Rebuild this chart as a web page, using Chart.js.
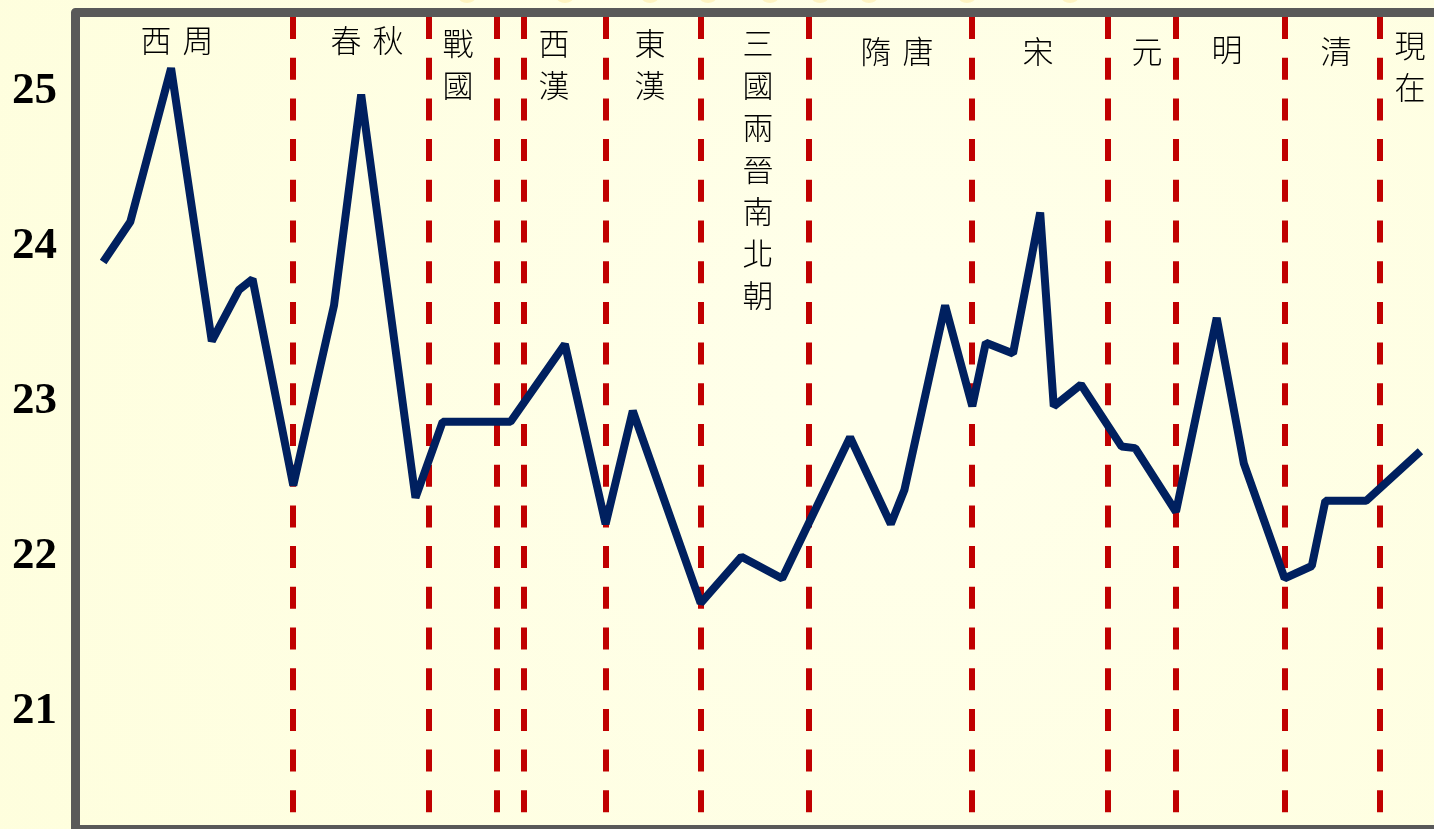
<!DOCTYPE html>
<html>
<head>
<meta charset="utf-8">
<script src="https://cdn.jsdelivr.net/npm/chart.js@4/dist/chart.umd.min.js"></script>
<style>
  html, body { margin: 0; padding: 0; background: #FEFEDF; overflow: hidden; }
  #wrap { width: 1434px; height: 829px; }
</style>
</head>
<body>
<div id="wrap"><canvas id="c" width="1434" height="829"></canvas></div>
<script>
// ---- data ----
// timeline position (relative units 0-100, schematic, not linear in years)
const timePos = [2, 4, 7, 10, 12, 13, 16, 19, 21, 25, 27, 32, 36, 39, 41, 46, 49, 52, 57, 60, 61, 64, 66, 67, 69, 71, 72, 74, 77, 78, 81, 84, 86, 89, 91, 92, 95, 99];
// temperature (°C)
const temps = [23.90, 24.16, 25.15, 23.39, 23.72, 23.79, 22.46, 23.62, 24.98, 22.38, 22.87, 22.87, 23.37, 22.21, 22.94, 21.70, 22.00, 21.86, 22.77, 22.21, 22.43, 23.62, 22.97, 23.38, 23.31, 24.22, 22.97, 23.11, 22.71, 22.70, 22.29, 23.54, 22.60, 21.86, 21.94, 22.36, 22.36, 22.68];
// dynasty boundaries (same timeline units)
const boundaries = [16, 26, 31, 33, 39, 46, 54, 66, 76, 81, 89, 96];
// dynasty names and where their label sits on the timeline
const dynasties = ["西周", "春秋", "戰國", "西漢", "東漢", "三國兩晉南北朝", "隋唐", "宋", "元", "明", "清", "現在"];
const dynastyPos = [7.44, 21.43, 28.13, 35.2, 42.27, 50.22, 60.46, 70.84, 78.87, 84.76, 92.78, 98.23];
const dynastyVertical = [false, false, true, true, true, true, false, false, false, false, false, true];
const yTicks = [21, 22, 23, 24, 25];

// ---- layout/style ----
const labelTop = [40, 40, 43, 43, 43, 43, 51, 51, 51, 49, 51, 45];
const charStep = 42;

const bgPlugin = {
  id: 'bg',
  beforeDraw(chart) {
    const ctx = chart.ctx;
    ctx.save();
    const g = ctx.createRadialGradient(900, 380, 50, 900, 380, 1100);
    g.addColorStop(0, '#FFFFEA');
    g.addColorStop(1, '#FEFEDC');
    ctx.fillStyle = g;
    ctx.fillRect(0, 0, chart.width, chart.height);
    // faint decorative dots above frame
    ctx.fillStyle = 'rgba(250,205,70,0.22)';
    [467, 565, 650, 708, 770, 820, 869, 967, 1070].forEach(x => {
      ctx.beginPath();
      ctx.ellipse(x, -2, 8, 5, 0, 0, Math.PI * 2);
      ctx.fill();
    });
    ctx.restore();
  },
  beforeDatasetsDraw(chart) {
    const ctx = chart.ctx;
    const xs = chart.scales.x;
    const area = chart.chartArea;
    ctx.save();
    ctx.strokeStyle = '#C00000';
    ctx.lineWidth = 6;
    ctx.setLineDash([22, 18.7]);
    ctx.lineCap = 'butt';
    boundaries.forEach(b => {
      const x = Math.round(xs.getPixelForValue(b));
      ctx.beginPath();
      ctx.moveTo(x, area.top);
      ctx.lineTo(x, area.bottom);
      ctx.stroke();
    });
    ctx.setLineDash([]);
    ctx.fillStyle = '#000';
    ctx.font = '300 31px "Noto Sans CJK TC"';
    ctx.textAlign = 'center';
    ctx.textBaseline = 'middle';
    dynasties.forEach((name, i) => {
      const cx = xs.getPixelForValue(dynastyPos[i]);
      const chars = Array.from(name);
      chars.forEach((ch, j) => {
        if (dynastyVertical[i]) {
          ctx.fillText(ch, cx, labelTop[i] + j * charStep);
        } else {
          const off = (j - (chars.length - 1) / 2) * charStep;
          ctx.fillText(ch, cx + off, labelTop[i]);
        }
      });
    });
    ctx.restore();
  },
  afterDraw(chart) {
    const ctx = chart.ctx;
    ctx.save();
    ctx.strokeStyle = '#595959';
    ctx.lineWidth = 9;
    ctx.lineJoin = 'round';
    ctx.beginPath();
    ctx.moveTo(1450, 12.5);
    ctx.lineTo(75.5, 12.5);
    ctx.lineTo(75.5, 829.5);
    ctx.lineTo(1450, 829.5);
    ctx.stroke();
    ctx.restore();
  }
};

new Chart(document.getElementById('c'), {
  type: 'line',
  data: {
    datasets: [{
      data: timePos.map((t, i) => ({ x: t, y: temps[i] })),
      borderColor: '#00205F',
      borderWidth: 8,
      borderJoinStyle: 'bevel',
      borderCapStyle: 'butt',
      pointRadius: 0,
      tension: 0,
      fill: false
    }]
  },
  options: {
    responsive: false,
    devicePixelRatio: 1,
    animation: false,
    layout: { padding: { top: 17, bottom: 4, left: 0, right: 0 } },
    plugins: { legend: { display: false }, tooltip: { enabled: false } },
    scales: {
      x: { type: 'linear', min: 0, max: 100, display: false },
      y: {
        min: 20.27, max: 25.48,
        afterBuildTicks(scale) { scale.ticks = yTicks.map(v => ({ value: v })); },
        afterFit(scale) {
          scale.width = 76;
          scale.paddingTop = 0;
          scale.paddingBottom = 0;
        },
        grid: { display: false, drawTicks: false },
        border: { display: false },
        ticks: {
          padding: 19,
          color: '#000',
          font: { family: '"Liberation Serif", "Times New Roman", serif', weight: 'bold', size: 45 },
          callback: v => String(v)
        }
      }
    }
  },
  plugins: [bgPlugin]
});
</script>
</body>
</html>
